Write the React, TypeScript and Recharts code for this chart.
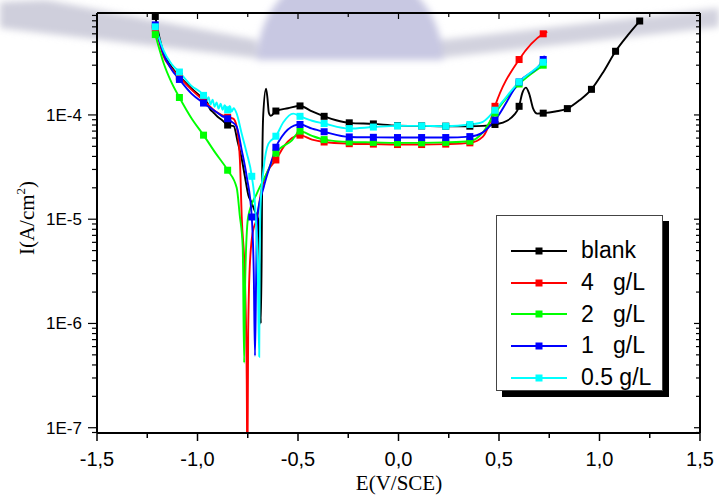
import { LineChart, Line, XAxis, YAxis, Legend } from "recharts";

// E (V/SCE), I (A/cm2)
const BLANK = [
  [-1.21, 8.8e-4], [-1.19, 5.6e-4], [-1.17, 4.0e-4], [-1.13, 2.9e-4], [-1.09, 2.35e-4],
  [-1.03, 1.8e-4], [-0.97, 1.42e-4], [-0.95, 1.3e-4], [-0.94, 1.16e-4], [-0.92, 1.05e-4],
  [-0.9, 9.6e-5], [-0.88, 9.0e-5], [-0.85, 8.0e-5], [-0.82, 7.8e-5], [-0.8, 5.5e-5],
  [-0.78, 3.8e-5], [-0.764, 2.55e-5], [-0.747, 1.7e-5], [-0.735, 1.5e-5], [-0.715, 1.2e-5],
  [-0.698, 1.0e-5], [-0.689, 2.6e-6], [-0.685, 1.0e-6], [-0.681, 4e-6], [-0.678, 3.0e-5],
  [-0.673, 1.0e-4], [-0.659, 1.79e-4], [-0.652, 1.45e-4], [-0.645, 1.05e-4], [-0.635, 9.8e-5],
  [-0.61, 1.09e-4], [-0.55, 1.16e-4], [-0.49, 1.22e-4], [-0.43, 1.08e-4], [-0.37, 9.7e-5],
  [-0.31, 8.9e-5], [-0.245, 8.4e-5], [-0.125, 8.2e-5], [-0.005, 7.9e-5], [0.115, 7.85e-5],
  [0.235, 7.8e-5], [0.355, 7.8e-5], [0.42, 7.85e-5], [0.48, 8.1e-5], [0.54, 8.8e-5],
  [0.575, 1.0e-4], [0.6, 1.21e-4], [0.615, 1.6e-4], [0.634, 1.83e-4], [0.65, 1.6e-4],
  [0.67, 1.15e-4], [0.69, 1.03e-4], [0.72, 1.04e-4], [0.78, 1.08e-4], [0.84, 1.15e-4],
  [0.9, 1.38e-4], [0.96, 1.76e-4], [1.02, 2.6e-4], [1.08, 4.08e-4], [1.14, 5.8e-4],
  [1.2, 7.96e-4],
];

const G4 = [
  [-1.21, 6.8e-4], [-1.19, 5.0e-4], [-1.17, 3.7e-4], [-1.13, 2.8e-4], [-1.09, 2.3e-4],
  [-1.03, 1.75e-4], [-0.97, 1.38e-4], [-0.91, 1.08e-4], [-0.85, 9.5e-5], [-0.822, 9.2e-5],
  [-0.805, 7.7e-5], [-0.789, 3.7e-5], [-0.78, 1.05e-5], [-0.764, 2.6e-6], [-0.755, 2.9e-7],
  [-0.752, 3e-8], [-0.748, 8e-7], [-0.74, 3.5e-6], [-0.725, 7.5e-6], [-0.705, 1.0e-5],
  [-0.68, 2.0e-5], [-0.65, 2.9e-5], [-0.61, 3.7e-5], [-0.57, 5.0e-5], [-0.53, 6.0e-5],
  [-0.49, 6.4e-5], [-0.43, 5.8e-5], [-0.37, 5.5e-5], [-0.245, 5.3e-5], [-0.125, 5.25e-5],
  [-0.005, 5.2e-5], [0.115, 5.2e-5], [0.235, 5.25e-5], [0.355, 5.4e-5], [0.42, 6.2e-5],
  [0.455, 8.5e-5], [0.48, 1.21e-4], [0.6, 3.4e-4], [0.72, 6.0e-4], [0.74, 6.3e-4],
];

const G2 = [
  [-1.21, 5.9e-4], [-1.19, 4.3e-4], [-1.17, 3.2e-4], [-1.13, 2.06e-4], [-1.09, 1.47e-4],
  [-1.03, 9.3e-5], [-0.97, 6.4e-5], [-0.91, 4.3e-5], [-0.85, 2.95e-5], [-0.805, 2.0e-5],
  [-0.79, 1.1e-5], [-0.775, 5.4e-6], [-0.768, 4.2e-7], [-0.762, 3e-6], [-0.748, 1.05e-5],
  [-0.705, 1.76e-5], [-0.656, 2.74e-5], [-0.61, 4.3e-5], [-0.53, 5.7e-5], [-0.49, 7.0e-5],
  [-0.43, 6.3e-5], [-0.37, 5.8e-5], [-0.245, 5.5e-5], [-0.125, 5.45e-5], [-0.005, 5.4e-5],
  [0.115, 5.4e-5], [0.235, 5.45e-5], [0.355, 5.6e-5], [0.42, 6.8e-5], [0.48, 1.04e-4],
  [0.6, 1.98e-4], [0.72, 3.0e-4], [0.73, 3.1e-4],
];

const G1 = [
  [-1.21, 7.3e-4], [-1.19, 5.2e-4], [-1.17, 3.9e-4], [-1.13, 2.75e-4], [-1.09, 2.19e-4],
  [-1.03, 1.6e-4], [-0.97, 1.3e-4], [-0.94, 1.18e-4], [-0.91, 1.08e-4], [-0.88, 9.8e-5],
  [-0.85, 9.2e-5], [-0.83, 8.6e-5], [-0.805, 7.7e-5], [-0.78, 4.6e-5], [-0.755, 2.55e-5],
  [-0.73, 1.05e-5], [-0.72, 3e-6], [-0.714, 4.9e-7], [-0.708, 3e-6], [-0.703, 1.05e-5],
  [-0.67, 2.05e-5], [-0.626, 3.9e-5], [-0.61, 4.9e-5], [-0.58, 6.2e-5], [-0.52, 7.9e-5],
  [-0.49, 8.1e-5], [-0.43, 7.4e-5], [-0.37, 6.9e-5], [-0.245, 6.15e-5], [-0.125, 6.1e-5],
  [-0.005, 6.07e-5], [0.115, 6.07e-5], [0.235, 6.07e-5], [0.355, 6.2e-5], [0.42, 6.8e-5],
  [0.48, 8.9e-5], [0.6, 2.07e-4], [0.72, 3.4e-4], [0.727, 3.7e-4],
];

const G05 = [
  [-1.21, 7.0e-4], [-1.19, 5.4e-4], [-1.17, 4.2e-4], [-1.13, 3.1e-4], [-1.09, 2.58e-4],
  [-1.03, 1.9e-4], [-0.97, 1.54e-4], [-0.955, 1.36e-4], [-0.945, 1.48e-4], [-0.935, 1.26e-4],
  [-0.925, 1.4e-4], [-0.915, 1.2e-4], [-0.905, 1.32e-4], [-0.895, 1.15e-4], [-0.885, 1.28e-4],
  [-0.875, 1.12e-4], [-0.865, 1.24e-4], [-0.85, 1.12e-4], [-0.84, 1.22e-4], [-0.83, 1.08e-4],
  [-0.82, 1.16e-4], [-0.805, 1.03e-4], [-0.78, 6.6e-5], [-0.755, 4.3e-5], [-0.73, 2.58e-5],
  [-0.712, 1.2e-5], [-0.7, 3e-6], [-0.693, 4.8e-7], [-0.69, 5e-6], [-0.686, 1.4e-5],
  [-0.672, 2.95e-5], [-0.647, 5.3e-5], [-0.61, 6.25e-5], [-0.573, 8.5e-5], [-0.524, 1.03e-4],
  [-0.49, 9.7e-5], [-0.43, 8.8e-5], [-0.37, 8.27e-5], [-0.245, 7.4e-5], [-0.125, 7.65e-5],
  [-0.005, 7.85e-5], [0.115, 7.85e-5], [0.235, 7.8e-5], [0.355, 8.1e-5], [0.42, 8.6e-5],
  [0.48, 1.11e-4], [0.6, 2.07e-4], [0.72, 3.2e-4], [0.727, 3.3e-4],
];

// potentials where the square symbols sit
const MARK_E = [
  -1.21, -1.09, -0.97, -0.85, -0.73, -0.61, -0.49, -0.37, -0.245, -0.125, -0.005,
  0.115, 0.235, 0.355, 0.48, 0.6, 0.72, 0.84, 0.96, 1.08, 1.2,
];

const SERIES = [
  { name: "blank", color: "#000000", points: BLANK },
  { name: "4   g/L", color: "#ff0000", points: G4 },
  { name: "2   g/L", color: "#00ff00", points: G2 },
  { name: "1   g/L", color: "#0000ff", points: G1 },
  { name: "0.5 g/L", color: "#00ffff", points: G05 },
];

const X_TICKS = [-1.5, -1.25, -1, -0.75, -0.5, -0.25, 0, 0.25, 0.5, 0.75, 1, 1.25, 1.5];
const Y_MIN = 8.9e-8;
const Y_MAX = 9.5e-4;
const Y_DECADES = [-8, -7, -6, -5, -4];
const Y_TICKS = Y_DECADES.flatMap((d) =>
  [1, 2, 3, 4, 5, 6, 7, 8, 9].map((m) => m * Math.pow(10, d))
).filter((v) => v >= Y_MIN && v <= Y_MAX);

const SANS = "'Liberation Sans', Arial, sans-serif";
const SERIF = "'Liberation Serif', 'Times New Roman', serif";

const isMajorX = (v: number) => Math.abs(v * 2 - Math.round(v * 2)) < 1e-6;
const isMajorY = (v: number) => {
  const lg = Math.log10(v);
  return Math.abs(lg - Math.round(lg)) < 1e-6;
};

const BottomTick = ({ x, y, payload }: any) => {
  const major = isMajorX(payload.value);
  return (
    <g>
      <line x1={x} x2={x} y1={y} y2={y + (major ? 8 : 5)} stroke="#000" strokeWidth={1.5} />
      {major && (
        <text x={x} y={y + 33} textAnchor="middle" fontSize={20} fontFamily={SANS} fill="#000">
          {payload.value.toFixed(1).replace(".", ",")}
        </text>
      )}
    </g>
  );
};

const TopTick = ({ x, y, payload }: any) => (
  <line x1={x} x2={x} y1={y} y2={y + (isMajorX(payload.value) ? 6 : 4)} stroke="#000" strokeWidth={1.2} />
);

const LeftTick = ({ x, y, payload }: any) => {
  const major = isMajorY(payload.value);
  return (
    <g>
      <line x1={x - (major ? 9 : 5)} x2={x} y1={y} y2={y} stroke="#000" strokeWidth={1.2} />
      {major && (
        <text x={x - 15} y={y + 6} textAnchor="end" fontSize={17} fontFamily={SANS} fill="#000">
          {"1E" + Math.round(Math.log10(payload.value))}
        </text>
      )}
    </g>
  );
};

const RightTick = ({ x, y, payload }: any) => (
  <line x1={x - (isMajorY(payload.value) ? 6 : 4)} x2={x} y1={y} y2={y} stroke="#000" strokeWidth={1.2} />
);

const XTitle = () => (
  <text x={399} y={490} textAnchor="middle" fontSize={21} fontFamily={SERIF} fill="#000">
    E(V/SCE)
  </text>
);

const YTitle = () => (
  <text
    x={34}
    y={218}
    transform="rotate(-90 34 218)"
    textAnchor="middle"
    fontSize={21}
    fontFamily={SERIF}
    fill="#000"
  >
    I(A/cm
    <tspan dy={-9} fontSize={13}>2</tspan>
    <tspan dy={9}>)</tspan>
  </text>
);

const squareDot = (color: string) => (props: any) => {
  const { cx, cy, payload, index } = props;
  const on = MARK_E.some((m) => Math.abs(m - payload.E) < 1e-9);
  if (!on || cx == null || cy == null) return <g key={index} />;
  return <rect key={index} x={cx - 3.5} y={cy - 3.5} width={7} height={7} fill={color} />;
};

const LegendBox = () => (
  <div
    style={{
      width: 167,
      height: 176,
      boxSizing: "border-box",
      border: "1px solid #444",
      background: "#fff",
      boxShadow: "6px 6px 0 #000",
      paddingTop: 19,
    }}
  >
    {SERIES.map((s) => (
      <div key={s.name} style={{ display: "flex", alignItems: "center", height: 31.7 }}>
        <svg width={56} height={10} style={{ marginLeft: 14 }}>
          <line x1={0} x2={56} y1={5} y2={5} stroke={s.color} strokeWidth={2} />
          <rect x={24.5} y={1.5} width={7} height={7} fill={s.color} />
        </svg>
        <span style={{ marginLeft: 14, fontSize: 23, fontFamily: SANS, whiteSpace: "pre", color: "#000" }}>
          {s.name}
        </span>
      </div>
    ))}
  </div>
);

const Watermark = () => (
  <svg width={719} height={495} style={{ position: "absolute", left: 0, top: 0 }}>
    <defs>
      <filter id="soft" x="-20%" y="-50%" width="140%" height="200%">
        <feGaussianBlur stdDeviation="3.5" />
      </filter>
    </defs>
    <g filter="url(#soft)">
      <path d="M0,2 L46,0 L257,40 L257,58 L0,28 Z" fill="#cfcfdc" />
      <path d="M440,40 L719,8 L719,27 L440,58 Z" fill="#d2d2de" />
      <path d="M257,60 A93,93 0 0 1 443,60 Z" fill="#c8c8e2" />
    </g>
  </svg>
);

export default function App() {
  return (
    <div style={{ position: "absolute", left: 0, top: 0, width: 719, height: 495, background: "#fff" }}>
      <Watermark />
      <div style={{ position: "absolute", left: 0, top: 0 }}>
        <LineChart width={719} height={495} margin={{ top: 0, right: 0, bottom: 0, left: 0 }}>
          <XAxis
            xAxisId="b"
            dataKey="E"
            type="number"
            domain={[-1.5, 1.5]}
            allowDataOverflow
            ticks={X_TICKS}
            interval={0}
            tickSize={0}
            tickMargin={0}
            tickLine={false}
            tick={<BottomTick />}
            height={62}
            axisLine={{ stroke: "#000", strokeWidth: 2 }}
            label={<XTitle />}
          />
          <XAxis
            xAxisId="t"
            orientation="top"
            dataKey="E"
            type="number"
            domain={[-1.5, 1.5]}
            allowDataOverflow
            ticks={X_TICKS}
            interval={0}
            tickSize={0}
            tickMargin={0}
            tickLine={false}
            tick={<TopTick />}
            height={13}
            axisLine={{ stroke: "#000", strokeWidth: 2 }}
          />
          <YAxis
            yAxisId="l"
            scale="log"
            domain={[Y_MIN, Y_MAX]}
            allowDataOverflow
            ticks={Y_TICKS}
            interval={0}
            tickSize={0}
            tickMargin={0}
            tickLine={false}
            tick={<LeftTick />}
            width={97}
            axisLine={{ stroke: "#000", strokeWidth: 2 }}
            label={<YTitle />}
          />
          <YAxis
            yAxisId="r"
            orientation="right"
            scale="log"
            domain={[Y_MIN, Y_MAX]}
            allowDataOverflow
            ticks={Y_TICKS}
            interval={0}
            tickSize={0}
            tickMargin={0}
            tickLine={false}
            tick={<RightTick />}
            width={19}
            axisLine={{ stroke: "#000", strokeWidth: 2 }}
          />
          {SERIES.map((s) => (
            <Line
              key={s.name}
              name={s.name}
              xAxisId="b"
              yAxisId="l"
              data={s.points.map(([E, I]) => ({ E, I }))}
              dataKey="I"
              type="monotone"
              stroke={s.color}
              strokeWidth={1.9}
              dot={squareDot(s.color)}
              activeDot={false}
              isAnimationActive={false}
            />
          ))}
          <Legend
            layout="vertical"
            align="center"
            verticalAlign="middle"
            content={<LegendBox />}
            wrapperStyle={{ left: 496, top: 215, width: 167, height: 176 }}
          />
        </LineChart>
      </div>
    </div>
  );
}
